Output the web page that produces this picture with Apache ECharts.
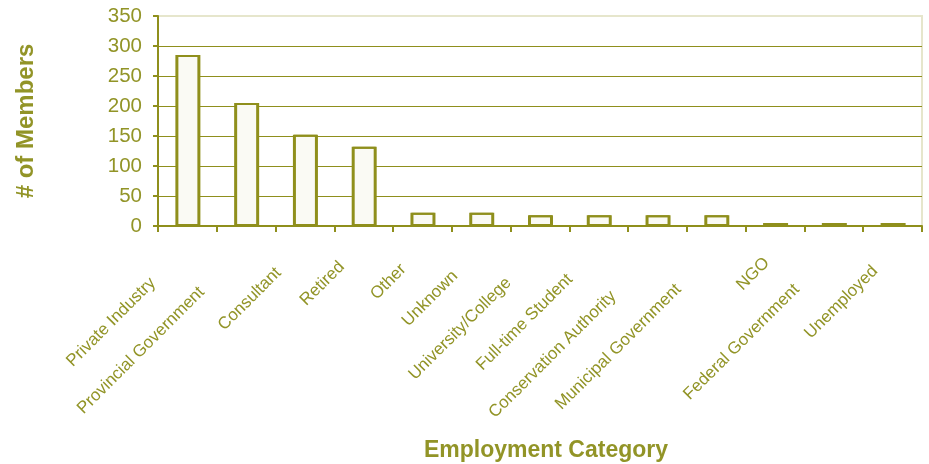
<!DOCTYPE html>
<html>
<head>
<meta charset="utf-8">
<script src="https://cdn.jsdelivr.net/npm/echarts@6/dist/echarts.min.js"></script>
<style>
html,body{margin:0;padding:0;background:#fff;}
#chart{width:929px;height:464px;}
</style>
</head>
<body>
<div id="chart"></div>
<script>
// ---- data ----
const categories = ['Private Industry','Provincial Government','Consultant','Retired','Other','Unknown','University/College','Full-time Student','Conservation Authority','Municipal Government','NGO','Federal Government','Unemployed'];
const members = [285, 205, 152, 132, 22, 22, 18, 18, 18, 18, 5, 5, 5];
const yTicks = [0, 50, 100, 150, 200, 250, 300, 350];

// ---- layout: per-label padding [top, right, bottom] to mimic staggered placement ----
const labelPad = [
  [0, 43, 11.5], [0, 56.5, 12.4], [0, 30.2, 14.4], [0, 22.7, 16.5], [0, 22.5, 8.8],
  [0, 32.3, 9.3], [0, 40.8, 7.5], [0, 36.5, 8.4], [0, 59.2, 6.5], [0, 49.9, 7.1],
  [0, 10.3, 3], [0, 49.5, 6.1], [0, 22.7, 4.4]
];

const OLIVE = '#8f8f1c';
const TEXT = '#929427';
const FONT = '"Liberation Sans", Arial, sans-serif';

const rich = {};
labelPad.forEach((p, i) => {
  rich['l' + i] = {
    fontFamily: FONT, fontSize: 17, color: TEXT,
    padding: [p[0], p[1], p[2], 0]
  };
});

const chart = echarts.init(document.getElementById('chart'));
chart.setOption({
  animation: false,
  backgroundColor: '#ffffff',
  grid: {
    left: 158, right: 7, top: 16, bottom: 238,
    show: true, borderColor: '#e6e6cc', borderWidth: 2,
    outerBoundsMode: 'none', containLabel: false
  },
  xAxis: {
    type: 'category',
    data: categories,
    boundaryGap: true,
    name: 'Employment Category',
    nameLocation: 'middle',
    nameGap: 213,
    nameTextStyle: { fontFamily: FONT, fontSize: 23, fontWeight: 'bold', color: TEXT, padding: [0, 0, 0, 12] },
    axisLine: { show: true, lineStyle: { color: OLIVE, width: 2 } },
    axisTick: { show: true, length: 6, lineStyle: { color: OLIVE, width: 2 } },
    axisLabel: {
      interval: 0, rotate: 45, margin: 28,
      fontFamily: FONT, fontSize: 17, color: TEXT,
      formatter: (v, i) => '{l' + i + '|' + v + '}',
      rich: rich
    },
    splitLine: { show: false }
  },
  yAxis: {
    type: 'value',
    min: yTicks[0], max: yTicks[yTicks.length - 1], interval: yTicks[1] - yTicks[0],
    name: '# of Members',
    nameLocation: 'middle',
    nameGap: 120,
    nameTextStyle: { fontFamily: FONT, fontSize: 24, fontWeight: 'bold', color: TEXT },
    axisLine: { show: true, lineStyle: { color: OLIVE, width: 2 } },
    axisTick: { show: true, length: 5, lineStyle: { color: OLIVE, width: 2 } },
    axisLabel: { margin: 16, fontFamily: FONT, fontSize: 20.5, color: TEXT },
    splitLine: { show: true, showMaxLine: false, lineStyle: { color: OLIVE, width: 1 } }
  },
  series: [{
    type: 'bar',
    data: members,
    barWidth: 24,
    itemStyle: {
      color: '#fafaf4',
      borderColor: OLIVE,
      borderWidth: 2,
      shadowColor: OLIVE,
      shadowOffsetX: 1,
      shadowOffsetY: 0,
      shadowBlur: 0
    }
  }]
});
</script>
</body>
</html>
